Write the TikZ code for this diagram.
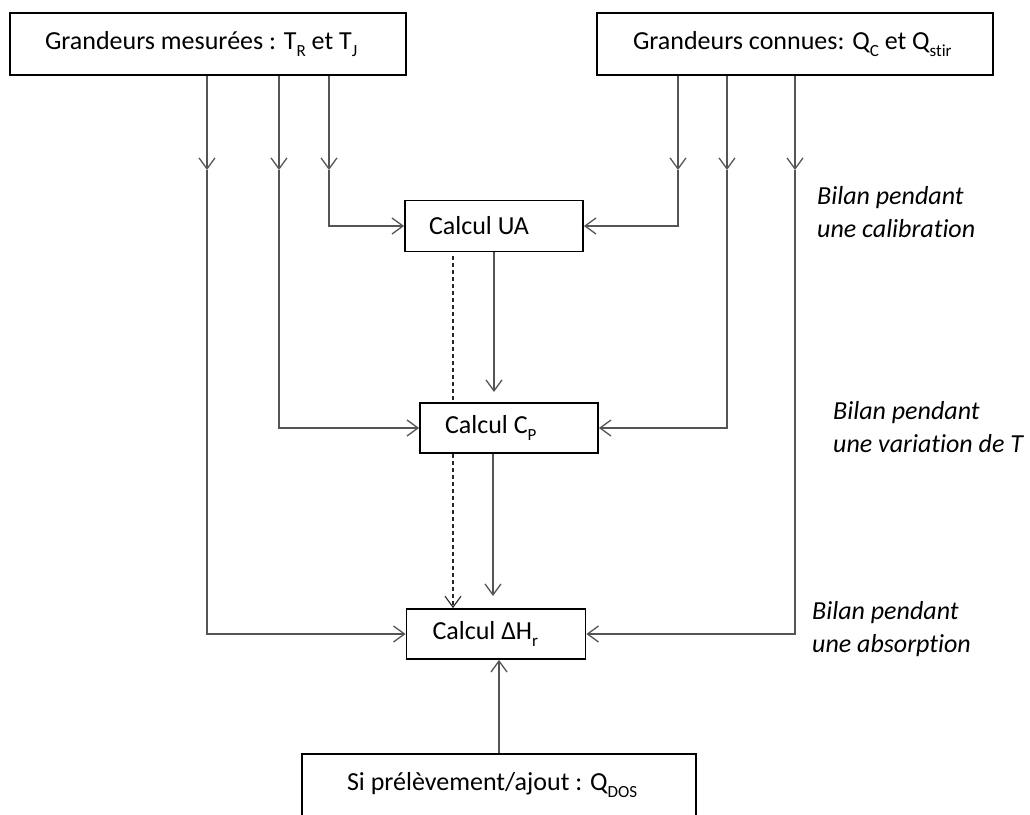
\documentclass[tikz,border=0pt]{standalone}
\usepackage{fontspec}
\setmainfont{Carlito}[Ligatures=NoCommon]
\usetikzlibrary{arrows.meta,calc}
\definecolor{linegray}{HTML}{555555}
\newcommand\sbs[1]{\raisebox{-7pt}{\fontsize{17}{17}\selectfont #1}}
\newcommand\lft[2]{\makebox[#1][l]{#2}}
\begin{document}
\begin{tikzpicture}[x=1pt,y=-1pt,
  box/.style={draw=black, line width=1.8pt, fill=white, inner sep=0pt,
    font=\fontsize{26}{31}\selectfont},
  conn/.style={draw=linegray, line width=1.3pt},
  arr/.style={conn, -{Straight Barb[length=11pt,width=16pt]}},
  dsh/.style={draw=black!85, line width=1.1pt, dash pattern=on 4pt off 3pt},
  lbl/.style={font=\fontsize{26}{33}\selectfont\itshape, align=left, inner sep=0pt, anchor=west}]
\useasboundingbox (0,0) rectangle (1030,814);
\fill[white] (0,0) rectangle (1030,814);

% boxes
\node[box, minimum width=396pt, minimum height=62pt] (tl) at (208,44)
  {\lft{326pt}{Grandeurs mesurées : T\sbs{R} et T\sbs{J}}};
\node[box, minimum width=396pt, minimum height=62pt] (tr) at (795,44)
  {\lft{324pt}{Grandeurs connues: Q\sbs{C} et Q\sbs{stir}}};
\node[box, minimum width=178pt, minimum height=51pt] (ua) at (494,226)
  {\lft{130pt}{Calcul UA}};
\node[box, minimum width=178pt, minimum height=50pt] (cp) at (509,428)
  {\lft{128pt}{Calcul C\sbs{P}}};
\node[box, minimum width=179pt, minimum height=50pt] (dh) at (496,634)
  {\lft{127pt}{Calcul ΔH\sbs{r}}};
\node[box, minimum width=394pt, minimum height=62pt] (bot) at (499,785)
  {\lft{304pt}{Si prélèvement/ajout : Q\sbs{DOS}}};

% labels
\node[lbl] (l1) at (817,212) {Bilan pendant\\une calibration};
\node[lbl] (l2) at (833,427) {Bilan pendant\\une variation de T};
\node[lbl] (l3) at (812,629) {Bilan pendant\\une absorption};

% mid-line arrow points
\coordinate (m1) at (207,170);
\coordinate (m2) at (279,170);
\coordinate (m3) at (329,170);
\coordinate (m4) at (678,170);
\coordinate (m5) at (727,170);
\coordinate (m6) at (795,170);

\foreach \m in {m1,m2,m3} \draw[arr] (tl.south -| \m) -- (\m);
\foreach \m in {m4,m5,m6} \draw[arr] (tr.south -| \m) -- (\m);

\draw[arr] (m1) |- (dh.west);
\draw[arr] (m2) |- (cp.west);
\draw[arr] (m3) |- (ua.west);
\draw[arr] (m4) |- (ua.east);
\draw[arr] (m5) |- (cp.east);
\draw[arr] (m6) |- (dh.east);

% centre
\coordinate (uatip) at (494,392);
\coordinate (cptip) at (493,596);
\coordinate (d1) at (453,256);
\draw[arr] (ua.south) -- (uatip);
\draw[arr] (cp.south -| cptip) -- (cptip);
\draw[dsh] (d1) -- (cp.north -| d1);
\draw[dsh, -{Straight Barb[length=11pt,width=16pt]}] (cp.south -| d1) -- (dh.north -| d1);
\draw[arr] (bot.north) -- (dh.south -| bot.north);
\end{tikzpicture}
\end{document}
